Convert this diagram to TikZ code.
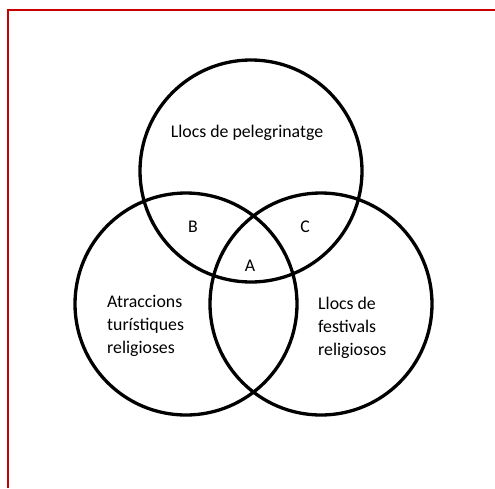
\documentclass[tikz,border=0pt]{standalone}
\usepackage{fontspec}
\setmainfont{Carlito}
\definecolor{frame}{RGB}{200,0,0}
\begin{document}
\begin{tikzpicture}[x=1pt,y=-1pt,
  ring/.style={draw=black,line width=3.3pt},
  lbl/.style={inner sep=0pt,font=\fontsize{17.8}{23}\selectfont}]
\useasboundingbox (0,0) rectangle (495,488);
\fill[white] (0,0) rectangle (495,488);
\draw[frame,line width=2pt] (8,488) -- (8,9.5) -- (495,9.5);
\node[ring,circle,minimum size=222pt,inner sep=0pt] (top) at (251,171) {};
\node[ring,circle,minimum size=222pt,inner sep=0pt] (left) at (186,304) {};
\node[ring,circle,minimum size=222pt,inner sep=0pt] (right) at (321,304) {};
\node[lbl,anchor=base] (t1) at (247,137) {Llocs de pelegrinatge};
\node[lbl,anchor=base] (b) at (193,232) {B};
\node[lbl,anchor=base] (c) at (305,232) {C};
\node[lbl,anchor=base] (a) at (250,271) {A};
\node[lbl,anchor=base west] (l1) at (107,307) {Atraccions};
\node[lbl,anchor=base west] (l2) at (107,330) {turístiques};
\node[lbl,anchor=base west] (l3) at (107,353) {religioses};
\node[lbl,anchor=base west] (r1) at (318,309) {Llocs de};
\node[lbl,anchor=base west] (r2) at (318,332) {festivals};
\node[lbl,anchor=base west] (r3) at (318,355) {religiosos};
\end{tikzpicture}
\end{document}
